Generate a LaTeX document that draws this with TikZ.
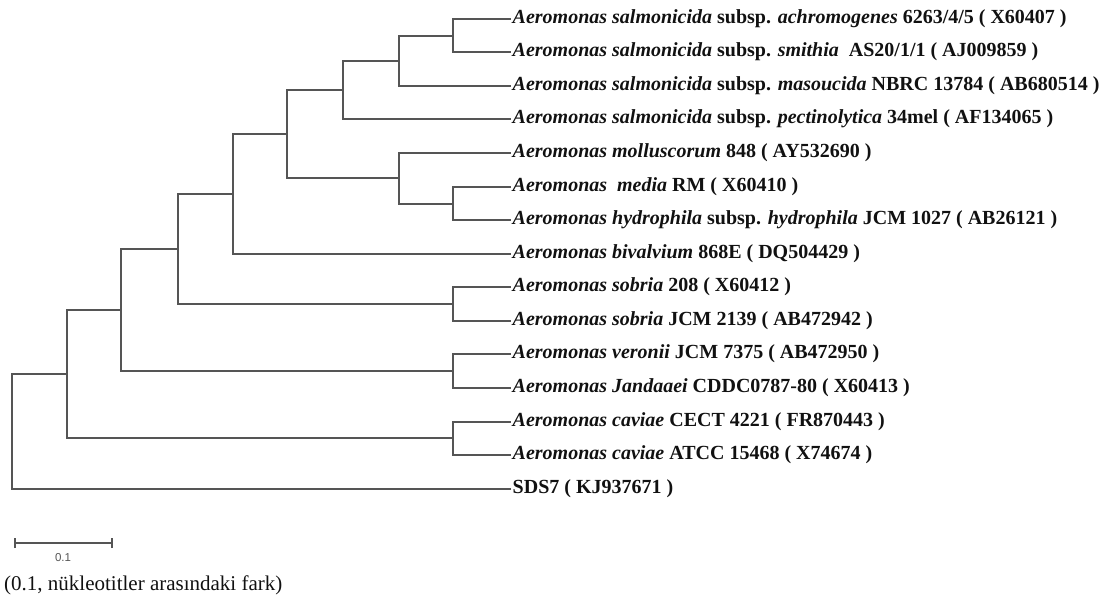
\documentclass[tikz,border=0pt]{standalone}
\usepackage{fontspec}
\setmainfont{Liberation Serif}
\setsansfont{Liberation Sans}
\definecolor{branch}{HTML}{555555}
\definecolor{txt}{HTML}{111111}
\begin{document}
\begin{tikzpicture}[x=1pt,y=-1pt,
  br/.style={draw=branch,line width=1.5pt,line cap=rect},
  leaf/.style={anchor=west,inner xsep=2.5pt,inner ysep=0pt,text=txt,
    font=\fontsize{20}{22}\selectfont\bfseries}]
\useasboundingbox (0,0) rectangle (1118,600);
% leaves
\def\lx{510}
\node[leaf] (l1)  at (\lx,19)  {\textit{Aeromonas salmonicida} subsp. \textit{achromogenes} 6263/4/5 ( X60407 )};
\node[leaf] (l2)  at (\lx,52)  {\textit{Aeromonas salmonicida} subsp. \textit{smithia}\ \ AS20/1/1 ( AJ009859 )};
\node[leaf] (l3)  at (\lx,86)  {\textit{Aeromonas salmonicida} subsp. \textit{masoucida} NBRC 13784 ( AB680514 )};
\node[leaf] (l4)  at (\lx,119) {\textit{Aeromonas salmonicida} subsp. \textit{pectinolytica} 34mel ( AF134065 )};
\node[leaf] (l5)  at (\lx,153) {\textit{Aeromonas molluscorum} 848 ( AY532690 )};
\node[leaf] (l6)  at (\lx,187) {\textit{Aeromonas\ \ media} RM ( X60410 )};
\node[leaf] (l7)  at (\lx,220) {\textit{Aeromonas hydrophila} subsp. \textit{hydrophila} JCM 1027 ( AB26121 )};
\node[leaf] (l8)  at (\lx,254) {\textit{Aeromonas bivalvium} 868E ( DQ504429 )};
\node[leaf] (l9)  at (\lx,287) {\textit{Aeromonas sobria} 208 ( X60412 )};
\node[leaf] (l10) at (\lx,321) {\textit{Aeromonas sobria} JCM 2139 ( AB472942 )};
\node[leaf] (l11) at (\lx,354) {\textit{Aeromonas veronii} JCM 7375 ( AB472950 )};
\node[leaf] (l12) at (\lx,388) {\textit{Aeromonas Jandaaei} CDDC0787-80 ( X60413 )};
\node[leaf] (l13) at (\lx,422) {\textit{Aeromonas caviae} CECT 4221 ( FR870443 )};
\node[leaf] (l14) at (\lx,455) {\textit{Aeromonas caviae} ATCC 15468 ( X74674 )};
\node[leaf] (l15) at (\lx,489) {SDS7 ( KJ937671 )};
% internal nodes
\coordinate (nA) at (453,36);
\coordinate (nB) at (399,61);
\coordinate (nC) at (343,90);
\coordinate (nF) at (453,204);
\coordinate (nE) at (399,178);
\coordinate (nD) at (287,134);
\coordinate (nG) at (233,194);
\coordinate (nS) at (453,304);
\coordinate (nH) at (178,249);
\coordinate (nV) at (453,371);
\coordinate (nI) at (121,310);
\coordinate (nCv) at (453,438);
\coordinate (nJ) at (67,374);
\coordinate (root) at (12,432);
% branches
\draw[br] (l1.west) -| (nA) |- (l2.west);
\draw[br] (nA) -| (nB) |- (l3.west);
\draw[br] (nB) -| (nC) |- (l4.west);
\draw[br] (l6.west) -| (nF) |- (l7.west);
\draw[br] (l5.west) -| (nE) |- (nF);
\draw[br] (nC) -| (nD) |- (nE);
\draw[br] (nD) -| (nG) |- (l8.west);
\draw[br] (l9.west) -| (nS) |- (l10.west);
\draw[br] (nG) -| (nH) |- (nS);
\draw[br] (l11.west) -| (nV) |- (l12.west);
\draw[br] (nH) -| (nI) |- (nV);
\draw[br] (l13.west) -| (nCv) |- (l14.west);
\draw[br] (nI) -| (nJ) |- (nCv);
\draw[br] (nJ) -| (root) |- (l15.west);
% scale bar
\coordinate (sb1) at (15,543);
\coordinate (sb2) at (112,543);
\draw[branch,line width=1.5pt] (sb1) -- (sb2);
\draw[branch,line width=1.3pt] ([yshift=-5]sb1) -- ([yshift=5]sb1);
\draw[branch,line width=1.3pt] ([yshift=-5]sb2) -- ([yshift=5]sb2);
\node[text=branch,font=\sffamily\fontsize{11.5}{12}\selectfont,inner sep=0pt] (sblab) at (63,558) {0.1};
\node[anchor=west,inner sep=0pt,text=txt,font=\fontsize{21}{23}\selectfont] (cap) at (4,585) {(0.1, nükleotitler arasındaki fark)};
\end{tikzpicture}
\end{document}
